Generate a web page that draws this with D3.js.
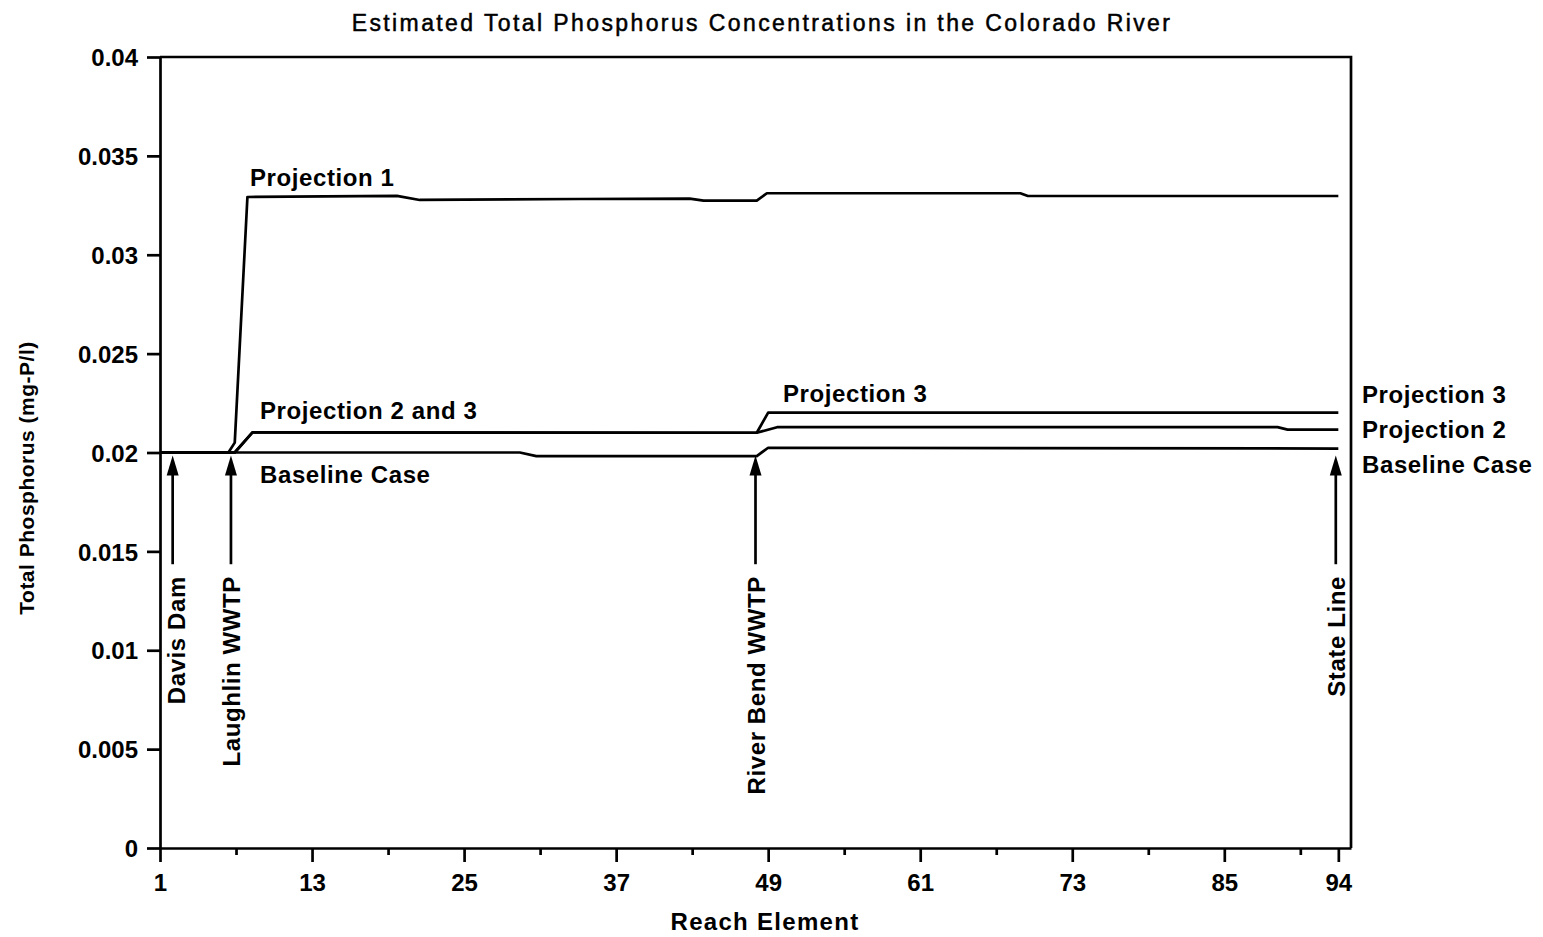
<!DOCTYPE html>
<html><head><meta charset="utf-8">
<script src="https://cdn.jsdelivr.net/npm/d3@7"></script>
<style>
body{margin:0;background:#fff}
svg{display:block}
text{font-family:"Liberation Sans",Arial,Helvetica,sans-serif;fill:#000}
</style>
</head><body>
<script>
// ---- data ----
const reachTicks = [1, 13, 25, 37, 49, 61, 73, 85, 94];
const reachMinorTicks = [7, 19, 31, 43, 55, 67, 79, 91];
const phosTicks = [0, 0.005, 0.01, 0.015, 0.02, 0.025, 0.03, 0.035, 0.04];
const phosTickLabels = ["0", "0.005", "0.01", "0.015", "0.02", "0.025", "0.03", "0.035", "0.04"];

const baselineReach = [1, 29.4, 30.7, 48.1, 49.0, 94];
const baselineValue = [0.0200, 0.0200, 0.01982, 0.01982, 0.02024, 0.02020];

const proj1Reach = [1, 6.4, 6.9, 7.9, 19.7, 21.5, 34.1, 42.8, 43.9, 48.1, 48.9, 68.9, 69.5, 94];
const proj1Value = [0.0200, 0.0200, 0.0205, 0.03292, 0.03298, 0.03277, 0.03282, 0.03284, 0.03274, 0.03274, 0.03311, 0.03311, 0.03297, 0.03297];

const proj2Reach = [1, 6.9, 8.3, 48.1, 49.7, 89.2, 90.0, 94];
const proj2Value = [0.0200, 0.0200, 0.02102, 0.02100, 0.02128, 0.02128, 0.02116, 0.02116];

const proj3Reach = [1, 6.9, 8.3, 48.1, 49.0, 94];
const proj3Value = [0.0200, 0.0200, 0.02102, 0.02100, 0.02202, 0.02202];

const markerNames = ["Davis Dam", "Laughlin WWTP", "River Bend WWTP", "State Line"];
const markerReach = [2.0, 6.6, 48.0, 93.8];

const titleText = "Estimated Total Phosphorus Concentrations in the Colorado River";
const xTitle = "Reach Element";
const yTitle = "Total Phosphorus (mg-P/l)";

// ---- chart ----
const W = 1543, H = 937;
const svg = d3.select("body").append("svg").attr("width", W).attr("height", H);

const x = d3.scaleLinear().domain([1, 95]).range([160, 1351]);
const y = d3.scaleLinear().domain([0, 0.04]).range([848, 57]);

const SW = 2.7;
const boldFont = "bold 24px 'Liberation Sans', Arial, sans-serif";

// Y axis
const yAxis = d3.axisLeft(y).tickValues(phosTicks).tickSize(13).tickSizeOuter(0).tickPadding(9)
  .tickFormat((d, i) => phosTickLabels[i]);
const gy = svg.append("g").attr("transform", `translate(${x(1)},0)`).call(yAxis);
gy.selectAll("path,line").attr("stroke", "#000").attr("stroke-width", SW);
gy.selectAll("text").style("font", boldFont).attr("dy", "0.36em");

// X axis major
const xAxis = d3.axisBottom(x).tickValues(reachTicks).tickSize(14).tickSizeOuter(0).tickPadding(12)
  .tickFormat(d3.format("d"));
const gx = svg.append("g").attr("transform", `translate(0,${y(0)})`).call(xAxis);
gx.selectAll("path,line").attr("stroke", "#000").attr("stroke-width", SW);
gx.selectAll("text").style("font", boldFont).attr("dy", "0.71em");

// X axis minor
const xMinor = d3.axisBottom(x).tickValues(reachMinorTicks).tickSize(7).tickFormat("");
const gxm = svg.append("g").attr("transform", `translate(0,${y(0)})`).call(xMinor);
gxm.select("path").remove();
gxm.selectAll("line").attr("stroke", "#000").attr("stroke-width", SW);

// frame top/right
svg.append("path")
  .attr("d", `M${x(1)},${y(0.04)}H${x(95)}V${y(0)}`)
  .attr("fill", "none").attr("stroke", "#000").attr("stroke-width", SW);

// lines
const line = d3.line().x(d => x(d[0])).y(d => y(d[1]));
const series = [
  [baselineReach, baselineValue],
  [proj1Reach, proj1Value],
  [proj2Reach, proj2Value],
  [proj3Reach, proj3Value]
];
series.forEach(([r, v]) => {
  svg.append("path").datum(r.map((d, i) => [d, v[i]]))
    .attr("d", line).attr("fill", "none").attr("stroke", "#000")
    .attr("stroke-width", SW).attr("stroke-linejoin", "round");
});

// markers (arrows + rotated labels)
const tipVal = 0.0199, shaftEndVal = 0.01435, labelStartVal = 0.01375;
markerReach.forEach((r, i) => {
  const px = x(r);
  const tipY = y(tipVal) + 1;
  svg.append("line").attr("x1", px).attr("x2", px)
    .attr("y1", tipY + 14).attr("y2", y(shaftEndVal))
    .attr("stroke", "#000").attr("stroke-width", SW);
  svg.append("path")
    .attr("d", `M${px},${tipY}L${px - 6},${tipY + 20}L${px + 6},${tipY + 20}Z`)
    .attr("fill", "#000");
  svg.append("text")
    .attr("transform", `translate(${px + (i === 0 ? 12 : 9)},${y(labelStartVal)}) rotate(-90)`)
    .attr("text-anchor", "end")
    .style("font", boldFont).style("letter-spacing", "0.6px")
    .text(markerNames[i]);
});

// inline labels
const labels = [
  ["Projection 1", 250, 186],
  ["Projection 2 and 3", 260, 419],
  ["Baseline Case", 260, 483],
  ["Projection 3", 783, 402],
  ["Projection 3", 1362, 403],
  ["Projection 2", 1362, 438],
  ["Baseline Case", 1362, 473]
];
labels.forEach(([t, lx, ly]) => {
  svg.append("text").attr("x", lx).attr("y", ly)
    .style("font", boldFont).style("letter-spacing", "0.6px").text(t);
});

// titles
svg.append("text").attr("x", 762).attr("y", 31).attr("text-anchor", "middle")
  .style("font", "23px 'Liberation Sans', Arial, sans-serif").style("letter-spacing", "2.4px")
  .attr("stroke", "#000").attr("stroke-width", 0.5)
  .text(titleText);
svg.append("text").attr("x", 765).attr("y", 930).attr("text-anchor", "middle")
  .style("font", boldFont).style("letter-spacing", "1.3px").text(xTitle);
svg.append("text").attr("transform", `translate(34,${478}) rotate(-90)`).attr("text-anchor", "middle")
  .style("font", "bold 21px 'Liberation Sans', Arial, sans-serif").style("letter-spacing", "0.5px")
  .text(yTitle);
</script>
</body></html>
